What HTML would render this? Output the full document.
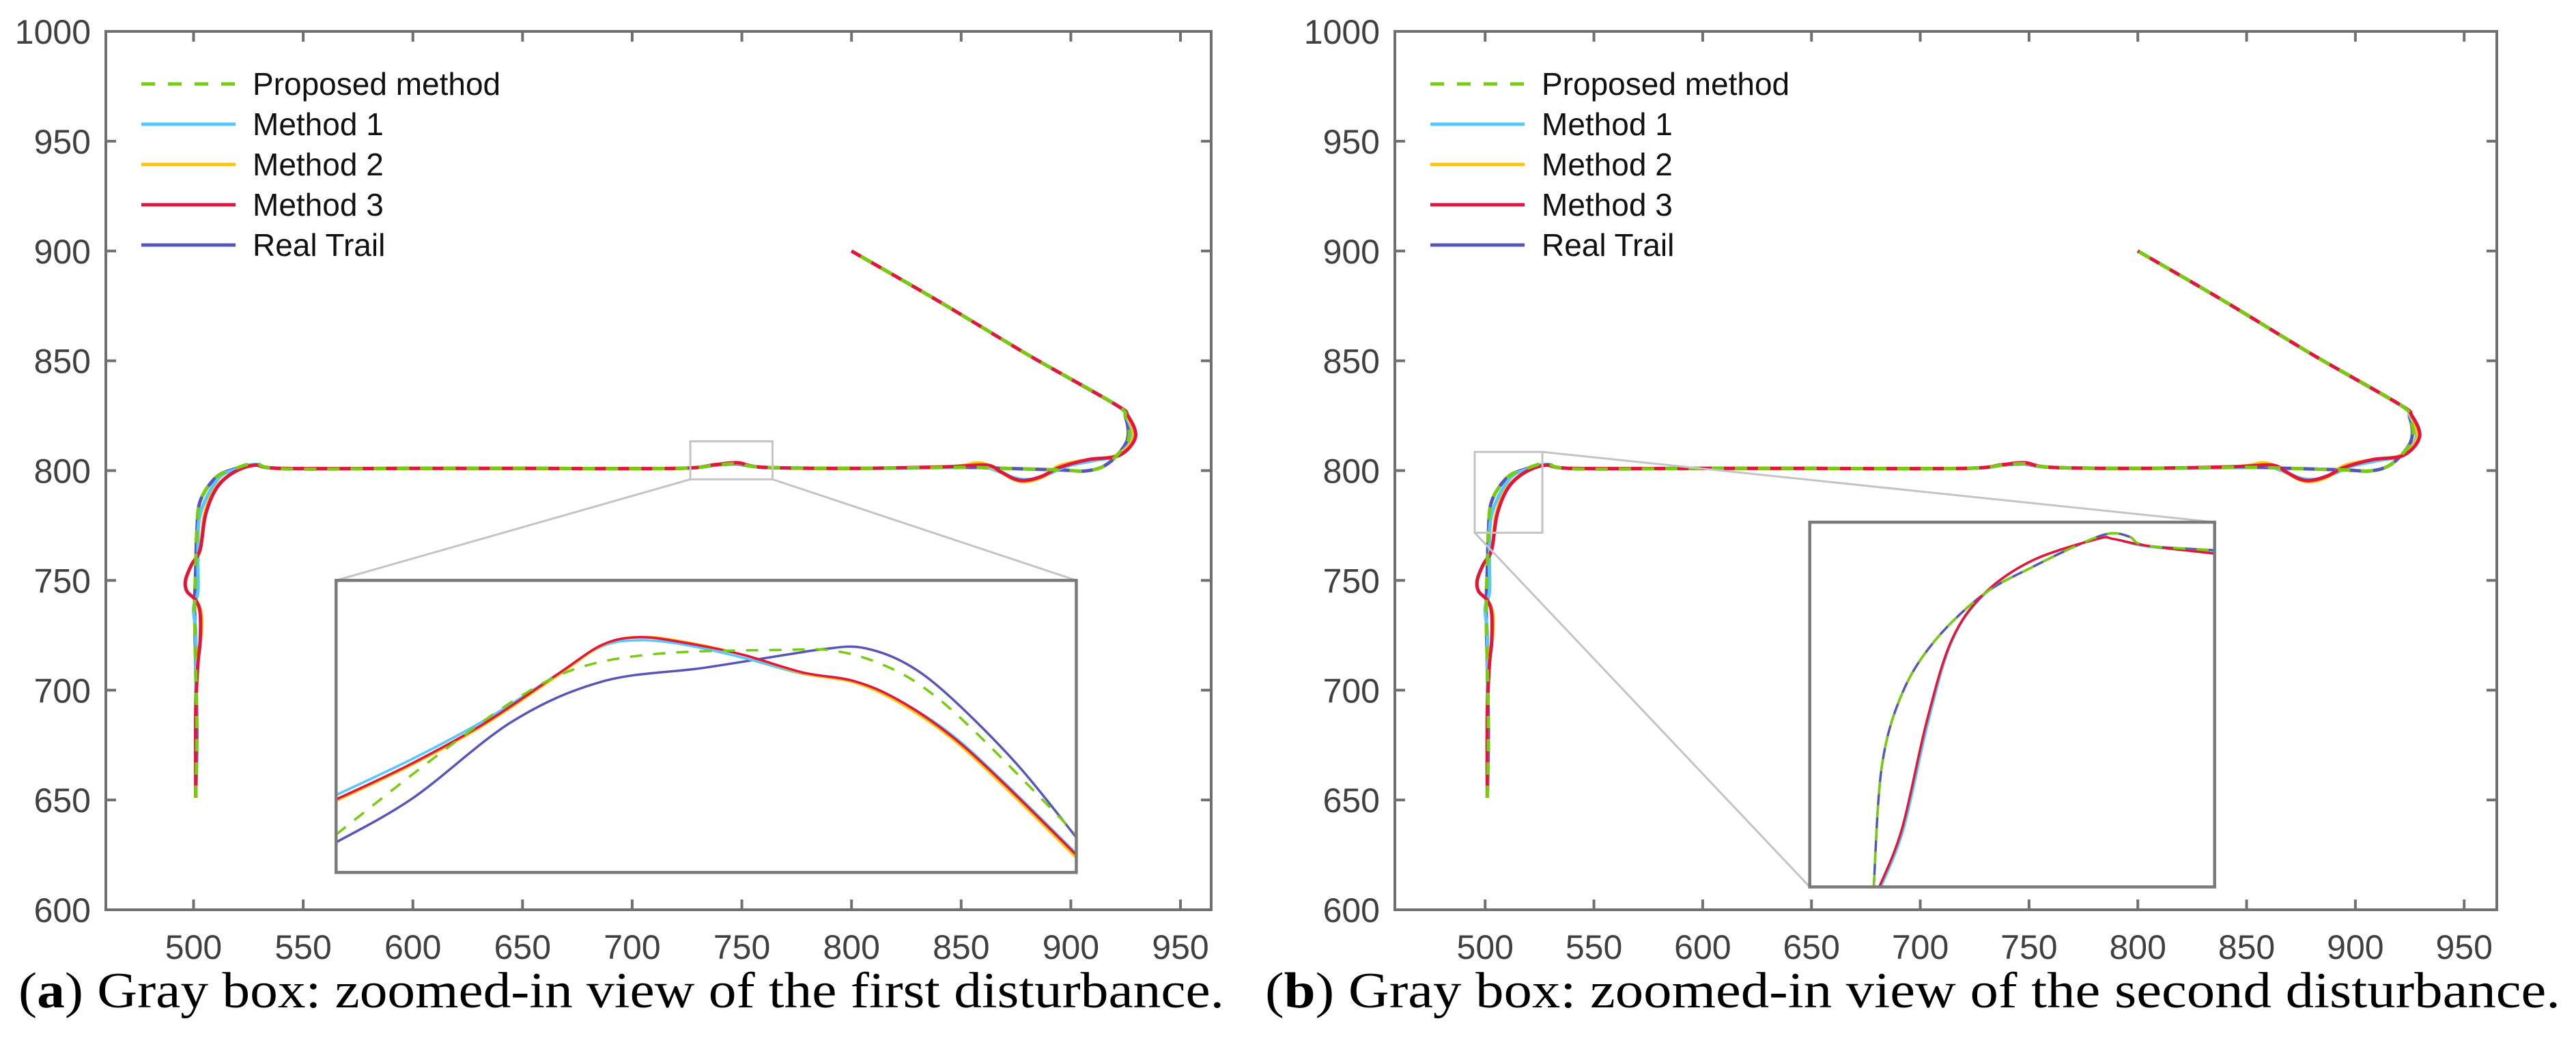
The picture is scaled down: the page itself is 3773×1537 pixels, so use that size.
<!DOCTYPE html>
<html><head><meta charset="utf-8">
<style>
html,body{margin:0;padding:0;background:#fff;}
body{width:3773px;height:1537px;overflow:hidden;position:relative;}
svg{position:absolute;left:0;top:0;}
.tick{font-family:"Liberation Sans",sans-serif;font-size:50px;fill:#404040;}
.leg{font-family:"Liberation Sans",sans-serif;font-size:46px;fill:#111;}
.cap{font-family:"Liberation Serif",serif;font-size:74px;fill:#000;}
</style></head>
<body>
<svg id="fig" width="3773" height="1537" viewBox="0 0 3773 1537" xmlns="http://www.w3.org/2000/svg">
<text class="cap" x="27" y="1476" textLength="1766" lengthAdjust="spacingAndGlyphs">(<tspan font-weight="bold">a</tspan>) Gray box: zoomed-in view of the first disturbance.</text>
<text class="cap" x="1853" y="1476" textLength="1897" lengthAdjust="spacingAndGlyphs">(<tspan font-weight="bold">b</tspan>) Gray box: zoomed-in view of the second disturbance.</text>
</svg>
<script>
// ---- data ----
const xTicks = [500,550,600,650,700,750,800,850,900,950];
const yTicks = [600,650,700,750,800,850,900,950,1000];
const seriesNames = ["Real Trail","Method 1","Method 2","Method 3","Proposed method"];
const legendNames = ["Proposed method","Method 1","Method 2","Method 3","Real Trail"];
const realTrail = [[501,651],[501.5,680],[501,710],[500.5,738],[501,755],[501.5,772],[503,786],[510,796.7],[518,800.5],[528,802.5],[540,801],[600,801],[650,801],[720,801],[738,802.5],[748,803],[760,801.5],[800,801],[850,801.5],[870,801],[895,800.3],[906.5,799.8],[915,802],[922,808],[926,815],[925,824],[920,830.3],[880,853],[840,877],[800,900]];
const method1 = [[501,651],[501,690],[501,725],[500,737],[502,745],[502,760],[503,780],[511,796],[519,800.5],[528,802.8],[540,801],[600,801],[650,801],[720,801],[738,802.5],[748,803.3],[760,801.5],[800,801],[845,801.5],[858,802.5],[866,800],[875,796.5],[882,796],[890,798.5],[898,802],[910,804.5],[921,807],[928,815],[925,825],[920,830.3],[880,853],[840,877],[800,900]];
const method2 = [[501,651],[501,690],[502,715],[503.5,725],[503.5,735],[501,741],[497,745],[496.5,750],[499,757],[503,764],[505,780],[510,792],[518,799],[528,802.5],[540,801],[600,801],[650,801],[720,801],[738,802.7],[748,803.5],[760,801.5],[800,801],[845,801.8],[858,803.5],[866,800.5],[874,796],[880,795],[888,797.5],[895,802.3],[908,805],[921,807],[928.5,815],[925.5,825],[920,830.3],[880,853],[840,877],[800,900]];
const method3 = [[501,651],[501,690],[502,712],[503,722],[503,735],[501,741],[497,745],[496.3,750],[499,757],[503,764],[505.5,780],[510.5,792],[518,799],[528,802.5],[540,801],[600,801],[650,801],[720,801],[738,802.7],[748,803.6],[760,801.5],[800,801],[845,801.8],[861.6,802.5],[868,799.5],[874,796.3],[879.2,795.5],[887,797.5],[895,801.5],[908,805],[922.2,807],[929.5,815.4],[926,825],[920,830.3],[880,853],[840,877],[800,900]];
const proposed = [[501,651],[501.5,680],[501,710],[500.5,738],[501,755],[501.5,772],[503,786],[510,796.7],[518,800.5],[528,803.3],[540,800.8],[600,801],[650,801],[720,801],[738,802.5],[748,803.1],[760,801.5],[800,801],[850,801.5],[870,801],[895,800.3],[906.5,799.8],[915,802],[922,808],[926.5,815],[925,824],[920,830.3],[880,853],[840,877],[800,900]];
// inset (a) curves, normalized inset coordinates [u,v]
const insetA_real = [[0,0.897],[0.104,0.745],[0.238,0.483],[0.36,0.346],[0.495,0.30],[0.607,0.255],[0.66,0.235],[0.71,0.23],[0.77,0.285],[0.83,0.40],[0.92,0.63],[1,0.88]];
const insetA_m1 = [[0,0.735],[0.1,0.615],[0.2,0.48],[0.3,0.32],[0.36,0.225],[0.41,0.205],[0.47,0.22],[0.55,0.265],[0.63,0.32],[0.7,0.345],[0.76,0.41],[0.83,0.525],[0.9,0.685],[1,0.935]];
const insetA_m2 = [[0,0.755],[0.1,0.635],[0.2,0.495],[0.3,0.325],[0.36,0.222],[0.41,0.193],[0.47,0.21],[0.55,0.255],[0.63,0.318],[0.7,0.35],[0.76,0.418],[0.83,0.538],[0.9,0.70],[1,0.95]];
const insetA_m3 = [[0,0.75],[0.1,0.63],[0.2,0.49],[0.3,0.32],[0.36,0.22],[0.41,0.195],[0.47,0.213],[0.55,0.255],[0.63,0.315],[0.7,0.345],[0.76,0.41],[0.83,0.53],[0.9,0.69],[1,0.94]];
const insetA_prop = [[0,0.87],[0.126,0.62],[0.238,0.415],[0.327,0.30],[0.44,0.25],[0.607,0.238],[0.67,0.24],[0.73,0.28],[0.79,0.36],[0.864,0.52],[1,0.87]];
// inset (b) curves
const insetB_real = [[0.158,1],[0.178,0.67],[0.228,0.47],[0.309,0.325],[0.43,0.197],[0.55,0.123],[0.67,0.059],[0.741,0.031],[0.79,0.04],[0.83,0.064],[1,0.077]];
const insetB_m1 = [[0.176,1],[0.232,0.84],[0.293,0.546],[0.352,0.325],[0.432,0.197],[0.55,0.105],[0.71,0.046],[0.75,0.046],[0.83,0.066],[1,0.084]];
const insetB_m2 = [[0.172,1],[0.228,0.84],[0.289,0.546],[0.35,0.325],[0.43,0.197],[0.55,0.105],[0.71,0.046],[0.75,0.046],[0.83,0.064],[1,0.086]];
const insetB_m3 = [[0.172,1],[0.228,0.84],[0.289,0.546],[0.35,0.325],[0.43,0.197],[0.55,0.105],[0.71,0.046],[0.75,0.046],[0.83,0.064],[1,0.086]];
const insetB_prop = [[0.158,1],[0.178,0.67],[0.228,0.47],[0.309,0.325],[0.43,0.197],[0.55,0.123],[0.67,0.059],[0.741,0.031],[0.79,0.04],[0.83,0.064],[1,0.077]];

const COLORS = {"Real Trail":"#5656b8","Method 1":"#55c8ff","Method 2":"#ffc20e","Method 3":"#e0163e","Proposed method":"#77cc11"};
const NS = "http://www.w3.org/2000/svg";
const svg = document.getElementById('fig');
function mk(tag, attrs, parent){const e=document.createElementNS(NS,tag);for(const k in attrs)e.setAttribute(k,attrs[k]);(parent||svg).appendChild(e);return e;}
function smooth(pts){
  if(pts.length<2)return "";
  let d="M"+pts[0][0].toFixed(1)+","+pts[0][1].toFixed(1);
  for(let i=0;i<pts.length-1;i++){
    const p0=pts[i-1]||pts[i],p1=pts[i],p2=pts[i+1],p3=pts[i+2]||p2;
    const c1=[p1[0]+(p2[0]-p0[0])/6,p1[1]+(p2[1]-p0[1])/6];
    const c2=[p2[0]-(p3[0]-p1[0])/6,p2[1]-(p3[1]-p1[1])/6];
    d+="C"+c1[0].toFixed(1)+","+c1[1].toFixed(1)+" "+c2[0].toFixed(1)+","+c2[1].toFixed(1)+" "+p2[0].toFixed(1)+","+p2[1].toFixed(1);
  }
  return d;
}
function drawSeries(g, name, pts, map, w){
  const p=mk('path',{d:smooth(pts.map(map)),fill:'none',stroke:COLORS[name],'stroke-width':w,'stroke-linejoin':'round','stroke-linecap':'butt'},g);
  if(name==="Proposed method")p.setAttribute('stroke-dasharray','18 16');
  
  
}
const mainSets = {"Real Trail":realTrail,"Method 1":method1,"Method 2":method2,"Method 3":method3,"Proposed method":proposed};

function panel(id, P, insetBox, small, connectors, insetSets){
  const g=mk('g',{});
  
  
  const sx=v=>P.L+(v-P.x0)/(P.x1-P.x0)*(P.R-P.L);
  const sy=v=>P.B-(v-P.y0)/(P.y1-P.y0)*(P.B-P.T);
  const map=p=>[sx(p[0]),sy(p[1])];
  const fr=mk('rect',{x:P.L,y:P.T,width:P.R-P.L,height:P.B-P.T,fill:'none',stroke:'#707070','stroke-width':4},g);
  
  
  xTicks.forEach(t=>{
    const x=sx(t);
    mk('line',{x1:x,y1:P.B,x2:x,y2:P.B-15,stroke:'#707070','stroke-width':4},g);
    mk('line',{x1:x,y1:P.T,x2:x,y2:P.T+15,stroke:'#707070','stroke-width':4},g);
    const tx=mk('text',{class:'tick',x:x,y:P.B+72,'text-anchor':'middle'},g);
    tx.textContent=t;
    
    
  });
  yTicks.forEach(t=>{
    const y=sy(t);
    mk('line',{x1:P.L,y1:y,x2:P.L+15,y2:y,stroke:'#707070','stroke-width':4},g);
    mk('line',{x1:P.R,y1:y,x2:P.R-15,y2:y,stroke:'#707070','stroke-width':4},g);
    const tx=mk('text',{class:'tick',x:P.L-22,y:y+18,'text-anchor':'end'},g);
    tx.textContent=t;
    
    
  });
  seriesNames.forEach(n=>drawSeries(g,n,mainSets[n],map,5));
  const sb=mk('rect',{x:sx(small[0]),y:sy(small[3]),width:sx(small[1])-sx(small[0]),height:sy(small[2])-sy(small[3]),fill:'none',stroke:'#c4c4c4','stroke-width':3},g);
  
  
  const ix0=sx(insetBox[0]),ix1=sx(insetBox[1]),iy0=sy(insetBox[3]),iy1=sy(insetBox[2]);
  connectors.forEach(c=>{
    const ln=mk('line',{x1:sx(c[0]),y1:sy(c[1]),x2:sx(c[2]),y2:sy(c[3]),stroke:'#c4c4c4','stroke-width':3},g);
    
    
  });
  mk('rect',{x:ix0,y:iy0,width:ix1-ix0,height:iy1-iy0,fill:'#fff',stroke:'none'},g);
  const cid='clip'+id;
  const cp=mk('clipPath',{id:cid},g);
  mk('rect',{x:ix0,y:iy0,width:ix1-ix0,height:iy1-iy0},cp);
  const ig=mk('g',{'clip-path':'url(#'+cid+')'},g);
  
  
  const imap=p=>[ix0+p[0]*(ix1-ix0), iy0+p[1]*(iy1-iy0)];
  seriesNames.forEach(n=>drawSeries(ig,n,insetSets[n],imap,3.5));
  const ibf=mk('rect',{x:ix0,y:iy0,width:ix1-ix0,height:iy1-iy0,fill:'none',stroke:'#7a7a7a','stroke-width':4.5},g);
  
  
  const lg=mk('g',{},g);
  
  
  legendNames.forEach((n,i)=>{
    const y=P.T+77+i*59;
    const l=mk('line',{x1:P.L+52,y1:y,x2:P.L+190,y2:y,stroke:COLORS[n],'stroke-width':5},lg);
    if(n==="Proposed method")l.setAttribute('stroke-dasharray','20 19');
    
    
    const t=mk('text',{class:'leg',x:P.L+215,y:y+16},lg);
    t.textContent=n;
    
    
  });
}
const PA={L:155,R:1774,T:46,B:1333,x0:460,x1:964,y0:600,y1:1000};
const PB={L:2043,R:3657,T:46,B:1333,x0:458.5,x1:965,y0:600,y1:1000};
panel('a',PA,[565,902.5,617,750],[726.5,764,796,813.3],
  [[726.5,796,565,750],[764,796,902.5,750]],
  {"Real Trail":insetA_real,"Method 1":insetA_m1,"Method 2":insetA_m2,"Method 3":insetA_m3,"Proposed method":insetA_prop});
panel('b',PB,[649.2,835.3,610.4,776.5],[495.2,526.3,771.7,808.5],
  [[526.3,808.5,835.3,776.5],[495.2,771.7,649.2,610.4]],
  {"Real Trail":insetB_real,"Method 1":insetB_m1,"Method 2":insetB_m2,"Method 3":insetB_m3,"Proposed method":insetB_prop});
</script>
</body></html>
